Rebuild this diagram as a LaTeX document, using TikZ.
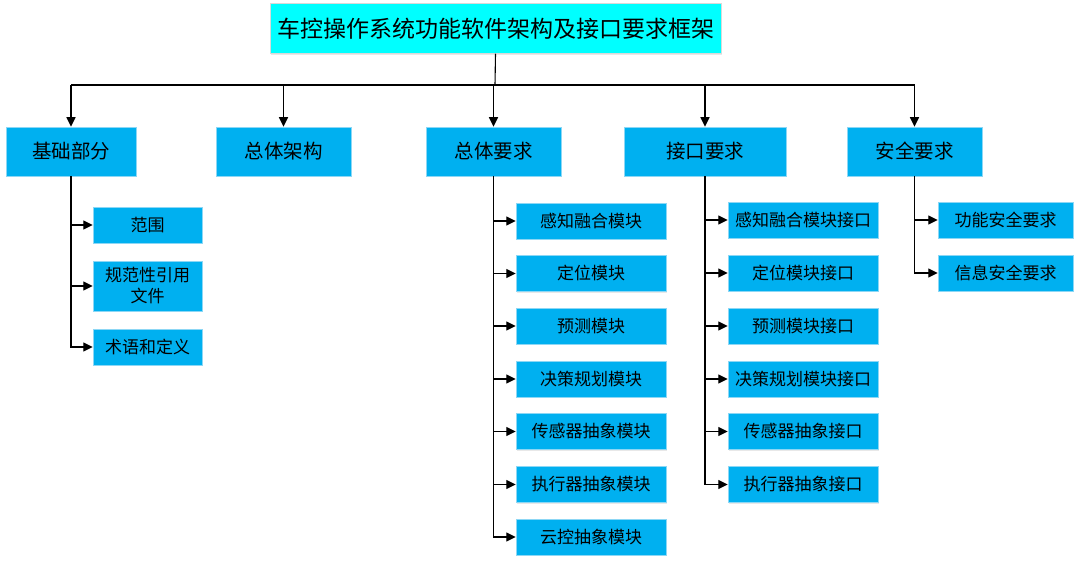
\documentclass[tikz,border=0pt]{standalone}
\usepackage{fontspec}
\setmainfont{Noto Sans CJK SC}
\usetikzlibrary{arrows.meta,shadows}
\definecolor{boxblue}{RGB}{0,176,240}
\definecolor{titlecyan}{RGB}{0,255,255}
\definecolor{edgeblue}{RGB}{140,215,245}
\begin{document}
\begin{tikzpicture}[x=1pt,y=-1pt,
  base/.style={fill=boxblue, draw=edgeblue, line width=0.5pt, inner sep=0pt, align=center,
    drop shadow={shadow xshift=1.2pt,shadow yshift=-1.2pt,opacity=0.18}},
  lvone/.style={base, minimum height=49pt, font=\fontsize{19.5}{22}\selectfont},
  leaf/.style={base, minimum height=36pt, font=\fontsize{17}{21}\selectfont},
  arr/.style={-{Triangle[length=9.5pt,width=9pt]}, line width=1.1pt, black},
  ln/.style={line width=1.1pt, black}]
\useasboundingbox[fill=white] (0,0) rectangle (1080,564);

\node[base, fill=titlecyan, draw=white!85!black, minimum width=451pt, minimum height=50pt,
  font=\fontsize{23}{26}\selectfont] (title) at (495.5,28.5) {车控操作系统功能软件架构及接口要求框架};

\node[lvone, minimum width=130pt] (l1) at (71,151.5) {基础部分};
\node[lvone, minimum width=135pt] (l2) at (283.5,151.5) {总体架构};
\node[lvone, minimum width=135pt] (l3) at (493.5,151.5) {总体要求};
\node[lvone, minimum width=162pt] (l4) at (705,151.5) {接口要求};
\node[lvone, minimum width=135pt] (l5) at (914.5,151.5) {安全要求};

\coordinate (bus) at (495,85);
\draw[ln] (title.south) -- (bus);
\draw[ln] (l1.north |- bus) -- (l5.north |- bus);
\foreach \n in {l1,l2,l3,l4,l5} \draw[arr] (\n.north |- bus) -- (\n.north);

% children of l1
\node[leaf, minimum width=109pt] (a1) at (147.5,225) {范围};
\node[leaf, minimum width=109pt, minimum height=50pt] (a2) at (147.5,286) {规范性引用\\文件};
\node[leaf, minimum width=109pt] (a3) at (147.5,347) {术语和定义};
\foreach \n in {a1,a2,a3} \draw[arr] (l1.south) |- (\n.west);

% children of l3
\node[leaf, minimum width=150pt] (b1) at (591,221) {感知融合模块};
\node[leaf, minimum width=150pt] (b2) at (591,273.5) {定位模块};
\node[leaf, minimum width=150pt] (b3) at (591,326) {预测模块};
\node[leaf, minimum width=150pt] (b4) at (591,379) {决策规划模块};
\node[leaf, minimum width=150pt] (b5) at (591,431.5) {传感器抽象模块};
\node[leaf, minimum width=150pt] (b6) at (591,484.5) {执行器抽象模块};
\node[leaf, minimum width=150pt] (b7) at (591,537) {云控抽象模块};
\foreach \n in {b1,b2,b3,b4,b5,b6,b7} \draw[arr] (l3.south) |- (\n.west);

% children of l4
\node[leaf, minimum width=150pt] (c1) at (803,220) {感知融合模块接口};
\node[leaf, minimum width=150pt] (c2) at (803,273) {定位模块接口};
\node[leaf, minimum width=150pt] (c3) at (803,326) {预测模块接口};
\node[leaf, minimum width=150pt] (c4) at (803,379) {决策规划模块接口};
\node[leaf, minimum width=150pt] (c5) at (803,431.5) {传感器抽象接口};
\node[leaf, minimum width=150pt] (c6) at (803,484.5) {执行器抽象接口};
\foreach \n in {c1,c2,c3,c4,c5,c6} \draw[arr] (l4.south) |- (\n.west);

% children of l5
\node[leaf, minimum width=135pt] (d1) at (1005.5,220) {功能安全要求};
\node[leaf, minimum width=135pt] (d2) at (1005.5,273) {信息安全要求};
\foreach \n in {d1,d2} \draw[arr] (l5.south) |- (\n.west);
\end{tikzpicture}
\end{document}
